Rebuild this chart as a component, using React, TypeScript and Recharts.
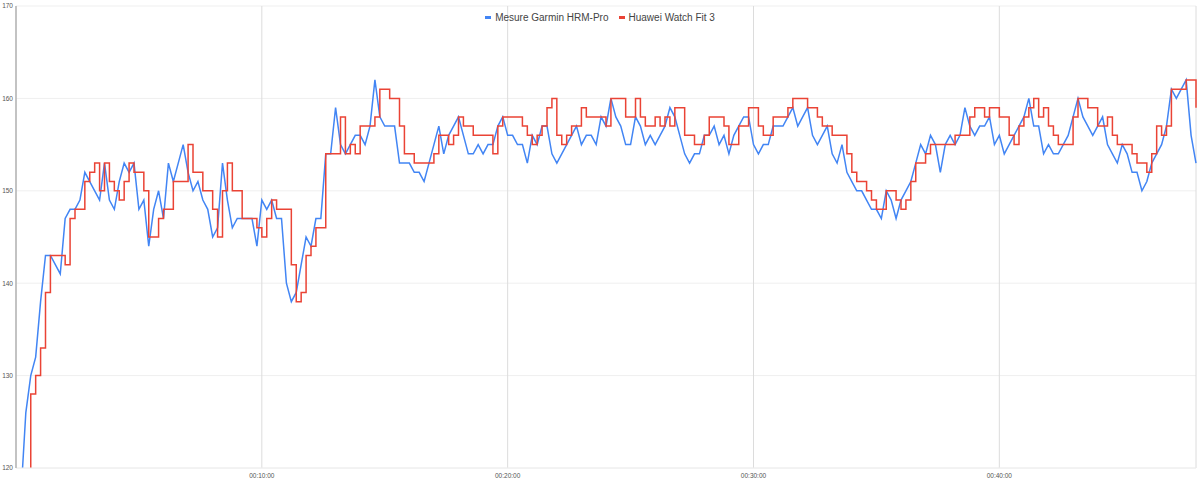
import React from 'react';
import { LineChart, Line, XAxis, YAxis, CartesianGrid } from 'recharts';

// one reading every 12 s
const STEP_SECONDS = 12;

const garmin = [
  112, 117, 126, 130, 132, 138, 143, 143, 142, 141, 147, 148, 148, 149, 152, 151, 150, 149, 153, 149, 148, 151, 153, 152, 153,
  148, 149, 144, 148, 150, 147, 153, 151, 153, 155, 152, 150, 151, 149, 148, 145, 146, 153, 149, 146, 147, 147, 147, 147, 144, 149,
  148, 149, 147, 147, 140, 138, 139, 142, 145, 144, 147, 147, 154, 154, 159, 155, 154, 155, 156, 156, 155, 157, 162, 158, 157, 157,
  157, 153, 153, 153, 152, 152, 151, 153, 155, 157, 154, 156, 157, 158, 156, 154, 154, 155, 154, 155, 155, 157, 158, 156, 156, 155,
  155, 153, 156, 155, 157, 157, 154, 153, 154, 155, 156, 157, 155, 156, 156, 155, 158, 157, 160, 158, 157, 155, 155, 158, 157, 155, 156,
  155, 156, 157, 159, 158, 156, 154, 153, 154, 154, 156, 156, 157, 155, 156, 154, 156, 157, 158, 158, 155, 154, 155, 155, 157, 157,
  157, 158, 159, 157, 158, 159, 156, 155, 156, 157, 154, 153, 155, 152, 151, 150, 150, 149, 148, 148, 147, 150, 149, 147, 149, 150, 151,
  153, 155, 154, 156, 155, 152, 155, 156, 155, 156, 159, 157, 156, 157, 157, 158, 155, 156, 154, 155, 156, 157, 158, 160, 157, 157,
  154, 155, 154, 154, 155, 156, 158, 160, 158, 157, 156, 157, 158, 155, 154, 153, 155, 154, 152, 152, 150, 151, 153, 154, 155, 157,
  161, 160, 161, 162, 156, 153,
];

const huawei = [
  108, 112, 118, 128, 130, 133, 139, 143, 143, 143, 142, 147, 148, 148, 151, 152, 153, 150, 153, 151, 150, 149, 151, 153, 152,
  152, 150, 145, 145, 147, 148, 148, 151, 151, 151, 155, 152, 152, 150, 150, 148, 145, 150, 153, 150, 150, 147, 147, 147, 146, 145,
  147, 149, 148, 148, 148, 142, 138, 139, 143, 144, 146, 146, 154, 154, 154, 158, 154, 155, 154, 157, 157, 157, 158, 161, 161, 160,
  160, 157, 154, 154, 153, 153, 153, 153, 154, 156, 156, 155, 156, 158, 157, 157, 156, 156, 156, 156, 154, 157, 158, 158, 158, 158,
  157, 156, 155, 156, 157, 159, 160, 156, 155, 156, 157, 157, 159, 158, 158, 158, 158, 157, 160, 160, 160, 158, 158, 160, 158, 157, 157,
  158, 157, 158, 157, 159, 159, 156, 156, 155, 155, 156, 158, 158, 158, 157, 155, 155, 157, 157, 159, 159, 157, 156, 156, 158, 158,
  158, 159, 160, 160, 160, 159, 159, 158, 157, 157, 156, 156, 156, 154, 152, 151, 151, 150, 149, 148, 148, 150, 150, 149, 148, 149, 151,
  153, 153, 154, 155, 155, 155, 155, 155, 156, 156, 156, 158, 159, 159, 158, 159, 159, 158, 158, 156, 155, 157, 158, 159, 160, 158,
  159, 157, 156, 155, 155, 155, 158, 160, 160, 159, 159, 157, 157, 158, 156, 155, 155, 155, 154, 153, 153, 152, 154, 157, 156, 157,
  161, 161, 161, 162, 162, 159,
];

const seriesNames = ['Mesure Garmin HRM-Pro', 'Huawei Watch Fit 3'];
const seriesColors = ['#4285F4', '#EA4335'];
const xTicks = [600, 1200, 1800, 2400];
const yTicks = [120, 130, 140, 150, 160, 170];

const data = garmin.map((g, i) => ({ t: i * STEP_SECONDS, garmin: g, huawei: huawei[i] }));

const pad = (n: number) => String(n).padStart(2, '0');
const fmtTime = (s: number) => `${pad(Math.floor(s / 3600))}:${pad(Math.floor((s % 3600) / 60))}:${pad(s % 60)}`;

const FONT = '"Liberation Sans", Arial, sans-serif';

export default function App() {
  return (
    <div style={{ position: 'absolute', left: 0, top: 0, width: 1200, height: 481, background: '#fff', fontFamily: FONT }}>
      <div style={{ position: 'absolute', top: 12, left: 0, width: 1200, display: 'flex', justifyContent: 'center', alignItems: 'center', fontSize: 10, color: '#444', zIndex: 2 }}>
        {seriesNames.map((name, i) => (
          <span key={name} style={{ display: 'flex', alignItems: 'center', marginRight: i === 0 ? 10 : 0 }}>
            <span style={{ display: 'inline-block', width: 6, height: 3, background: seriesColors[i], marginRight: 4 }} />
            {name}
          </span>
        ))}
      </div>
      <LineChart width={1200} height={481} data={data} margin={{ top: 6, right: 4, bottom: 0, left: 0 }}>
        <CartesianGrid horizontal={true} vertical={false} stroke="#efefef" />
        <CartesianGrid horizontal={false} vertical={true} stroke="#dcdcdc" />
        <XAxis
          dataKey="t"
          type="number"
          domain={[0, 2880]}
          ticks={xTicks}
          tickFormatter={fmtTime}
          height={13}
          tickSize={0}
          tickMargin={5}
          axisLine={{ stroke: '#eeeeee' }}
          tick={{ fontSize: 6.5, fill: '#555', fontFamily: FONT }}
        />
        <YAxis
          domain={[120, 170]}
          ticks={yTicks}
          allowDataOverflow
          width={16}
          tickSize={0}
          tickMargin={3}
          axisLine={{ stroke: '#999' }}
          tick={{ fontSize: 6.5, fill: '#555', fontFamily: FONT }}
        />
        <Line type="linear" dataKey="garmin" name={seriesNames[0]} stroke={seriesColors[0]} strokeWidth={1.5} dot={false} isAnimationActive={false} />
        <Line type="stepAfter" dataKey="huawei" name={seriesNames[1]} stroke={seriesColors[1]} strokeWidth={1.5} dot={false} isAnimationActive={false} />
      </LineChart>
    </div>
  );
}
